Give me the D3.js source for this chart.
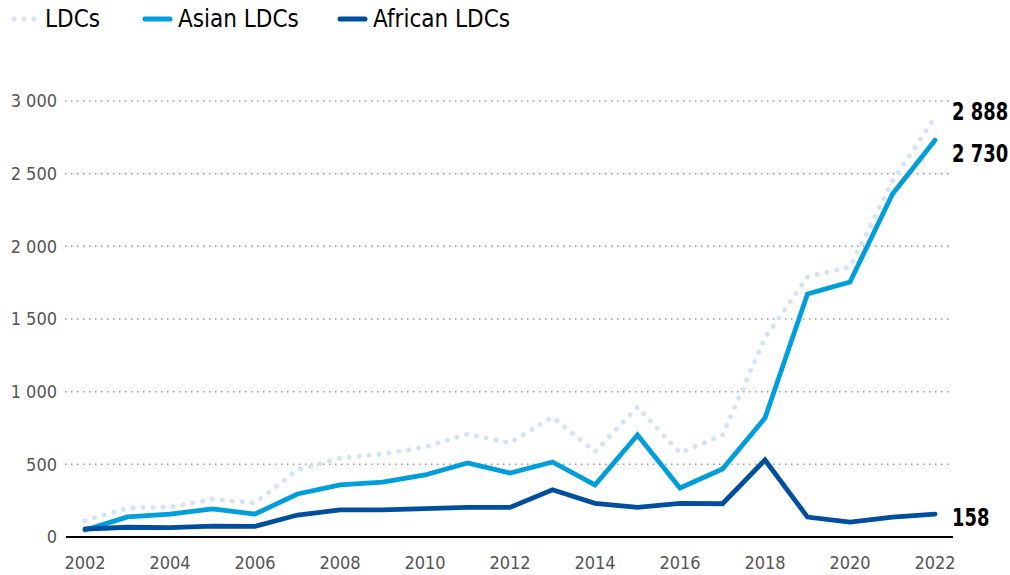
<!DOCTYPE html>
<html><head><meta charset="utf-8">
<script src="https://cdn.jsdelivr.net/npm/d3@7"></script>
<style>
body{margin:0;background:#fff;}
svg{display:block;font-family:"Liberation Sans Narrow","DejaVu Sans Condensed","Roboto",sans-serif;}
</style></head><body>
<svg id="c" width="1010" height="575"></svg>
<script>
const years = d3.range(2002, 2023);
const ldcs    = [112,200,206,261,234,461,543,571,619,709,647,826,587,895,578,702,1370,1790,1858,2450,2888];
const asian   = [48,138,158,193,158,296,358,378,427,509,440,516,358,702,337,468,819,1672,1755,2360,2730];
const african = [55,67,65,75,73,151,186,186,195,204,204,325,232,204,232,229,530,137,103,137,158];
const yTicks = [0,500,1000,1500,2000,2500,3000];
const xTicks = [2002,2004,2006,2008,2010,2012,2014,2016,2018,2020,2022];
const seriesNames = ["LDCs","Asian LDCs","African LDCs"];
const colors = ["#d3e4f5","#009edb","#004f9e"];

const svg = d3.select("#c");
const x = d3.scaleLinear().domain([2002,2022]).range([85,935]);
const y = d3.scaleLinear().domain([0,3000]).range([537,101]);
const fmt = v => d3.format(",")(v).replace(/,/g," ");

// gridlines
svg.append("g").selectAll("line").data(yTicks.filter(d=>d>0)).join("line")
  .attr("x1",65).attr("x2",952).attr("y1",d=>y(d)).attr("y2",d=>y(d))
  .attr("stroke","#999").attr("stroke-width",1.5).attr("stroke-dasharray","1.5,4.5");
// y labels
svg.append("g").selectAll("text").data(yTicks).join("text")
  .attr("x",57).attr("y",d=>y(d)).attr("dy","0.35em").attr("text-anchor","end")
  .attr("font-size",18).attr("fill","#555").text(fmt);
// x labels
svg.append("g").selectAll("text").data(xTicks).join("text")
  .attr("x",d=>x(d)).attr("y",563).attr("dy","0.35em").attr("text-anchor","middle")
  .attr("font-size",18).attr("fill","#555").text(d=>d);
// zero line
svg.append("line").attr("x1",66).attr("x2",953).attr("y1",y(0)).attr("y2",y(0))
  .attr("stroke","#000").attr("stroke-width",2);

const line = d3.line().x((d,i)=>x(years[i])).y(d=>y(d));
svg.append("path").datum(ldcs).attr("d",line).attr("fill","none")
  .attr("stroke",colors[0]).attr("stroke-width",5).attr("stroke-linecap","round")
  .attr("stroke-dasharray","0,10");
svg.append("path").datum(asian).attr("d",line).attr("fill","none")
  .attr("stroke",colors[1]).attr("stroke-width",4.8).attr("stroke-linejoin","miter").attr("stroke-linecap","round");
svg.append("path").datum(african).attr("d",line).attr("fill","none")
  .attr("stroke",colors[2]).attr("stroke-width",4.8).attr("stroke-linejoin","miter").attr("stroke-linecap","round");

// end labels
const endLabels = [[ldcs[20],111],[asian[20],153],[african[20],517]];
svg.append("g").selectAll("text").data(endLabels).join("text")
  .attr("transform",d=>`translate(952,${d[1]}) scale(0.83,1)`).attr("dy","0.36em")
  .attr("font-size",24).attr("font-weight","bold").attr("fill","#000").text(d=>fmt(d[0]));

// legend
const lg = svg.append("g");
const legX = [[12,45],[143,178],[338,373]];
seriesNames.forEach((n,i)=>{
  const [sx,tx]=legX[i];
  const l = lg.append("line").attr("x1",sx+2).attr("x2",sx+27).attr("y1",19).attr("y2",19)
    .attr("stroke",colors[i]).attr("stroke-width",5).attr("stroke-linecap","round");
  if(i===0) l.attr("stroke-dasharray","0,10").attr("x1",sx+2).attr("x2",sx+23);
  lg.append("text").attr("x",tx).attr("y",19).attr("dy","0.35em").attr("font-size",24)
    .attr("fill","#000").text(n);
});
</script>
</body></html>
